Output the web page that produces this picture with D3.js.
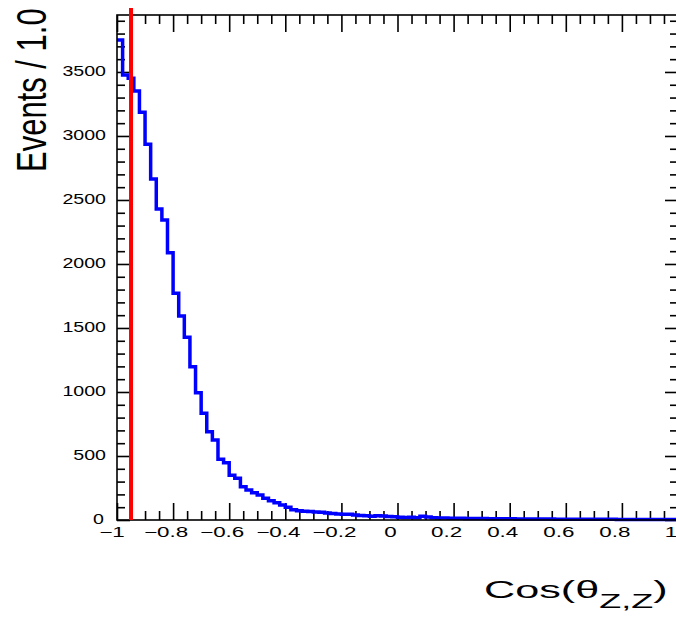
<!DOCTYPE html>
<html>
<head>
<meta charset="utf-8">
<script src="https://cdn.jsdelivr.net/npm/d3@7"></script>
<style>
  body { margin: 0; background: #fff; }
  svg { display: block; }
  text { font-family: "Liberation Sans", Arial, Helvetica, sans-serif; fill: #000; }
</style>
</head>
<body>
<svg id="svg-graphic" width="676" height="617"></svg>
<script>
/////////////////////////////////////////////////////////////////////////////////////
// Data
var binLow = -1, binHigh = 1, nBins = 100;
var binCounts = [
  3750, 3477, 3450, 3352, 3185, 2935, 2664, 2430, 2344, 2088,
  1771, 1594, 1427, 1198,  995,  833,  690,  625,  474,  448,
   350,  326,  260,  234,  213,  195,  169,  151,  135,  117,
    99,   80,   73,   68,   66,   62,   60,   55,   50,   46,
    44,   45,   40,   36,   33,   30,   33,   31,   27,   25,
    22,   20,   22,   18,   30,   24,   18,   16,   15,   14,
    13,   13,   12,   12,   11,   11,   10,   10,    9,    9,
     9,    8,    8,    8,    7,    7,    7,    7,    6,    6,
     6,    6,    6,    5,    5,    5,    5,    5,    5,    4,
     4,    4,    4,    4,    4,    4,    3,    3,    3,    3
];
var cutValue = -0.95;          // red vertical line
var cutTop = 4000;
var xTickValues = [-1, -0.8, -0.6, -0.4, -0.2, 0, 0.2, 0.4, 0.6, 0.8, 1];
var xTickLabels = ["\u22121", "\u22120.8", "\u22120.6", "\u22120.4", "\u22120.2", "0", "0.2", "0.4", "0.6", "0.8", "1"];
var yTickValues = [0, 500, 1000, 1500, 2000, 2500, 3000, 3500];
var yTickLabels = ["0", "500", "1000", "1500", "2000", "2500", "3000", "3500"];
var yMax = 3945;

/////////////////////////////////////////////////////////////////////////////////////
// Margins
var svg = d3.select("#svg-graphic");
var margin = {left: 117, right: -2, top: 15, bottom: 97};
var w = 676, h = 617;

var xScale = d3.scaleLinear().domain([binLow, binHigh]).range([margin.left, w - margin.right]);
var yScale = d3.scaleLinear().domain([0, yMax]).range([h - margin.bottom, margin.top]);

var binWidth = (binHigh - binLow) / nBins;
var histPoints = binCounts.map(function(c, i) { return [binLow + i * binWidth, c]; });
histPoints.push([binHigh, binCounts[nBins - 1]]);

var xMinor = d3.range(-20, 21).map(function(i) { return i * 0.05; })
  .filter(function(v) { return Math.abs(Math.round(v * 5) - v * 5) > 1e-6; });
var yMinor = d3.range(0, 40).map(function(i) { return i * 100; })
  .filter(function(v) { return v % 500 !== 0 && v <= yMax; });

/////////////////////////////////////////////////////////////////////////////////////
// Axes (ticks inside, ROOT style)
function tickAxis(axis, cls, tr) {
  var g = svg.append("g").attr("class", cls).attr("transform", tr).call(axis);
  g.select(".domain").remove();
  g.selectAll("line").attr("stroke", "#000").attr("stroke-width", 1.6);
  return g;
}
var y0 = yScale(0), y1 = yScale(yMax);
tickAxis(d3.axisBottom(xScale).tickValues(xTickValues).tickSize(-17).tickFormat(""), "xMajB", "translate(0," + y0 + ")");
tickAxis(d3.axisBottom(xScale).tickValues(xMinor).tickSize(-9).tickFormat(""), "xMinB", "translate(0," + y0 + ")");
tickAxis(d3.axisTop(xScale).tickValues(xTickValues).tickSize(-17).tickFormat(""), "xMajT", "translate(0," + y1 + ")");
tickAxis(d3.axisTop(xScale).tickValues(xMinor).tickSize(-9).tickFormat(""), "xMinT", "translate(0," + y1 + ")");
tickAxis(d3.axisLeft(yScale).tickValues(yTickValues).tickSize(-13).tickFormat(""), "yMajL", "translate(" + margin.left + ",0)");
tickAxis(d3.axisLeft(yScale).tickValues(yMinor).tickSize(-8).tickFormat(""), "yMinL", "translate(" + margin.left + ",0)");
tickAxis(d3.axisRight(yScale).tickValues(yTickValues).tickSize(-13).tickFormat(""), "yMajR", "translate(" + (w - margin.right) + ",0)");
tickAxis(d3.axisRight(yScale).tickValues(yMinor).tickSize(-8).tickFormat(""), "yMinR", "translate(" + (w - margin.right) + ",0)");

// Histogram
var line = d3.line()
  .x(function(d) { return xScale(d[0]); })
  .y(function(d) { return yScale(d[1]); })
  .curve(d3.curveStepAfter);
svg.append("path")
   .datum(histPoints)
   .attr("d", line)
   .attr("fill", "none")
   .attr("stroke", "#0000ff")
   .attr("stroke-width", 3.5);

// Frame
svg.append("rect")
   .attr("x", margin.left).attr("y", y1)
   .attr("width", xScale(binHigh) - margin.left).attr("height", y0 - y1)
   .attr("fill", "none").attr("stroke", "#000").attr("stroke-width", 1.6);

// Red cut line
svg.append("line")
   .attr("x1", xScale(cutValue)).attr("x2", xScale(cutValue))
   .attr("y1", yScale(0)).attr("y2", yScale(cutTop))
   .attr("stroke", "#ff0000").attr("stroke-width", 4);

/////////////////////////////////////////////////////////////////////////////////////
// Labels (ROOT output is stretched horizontally)
svg.selectAll("text.xlab")
   .data(xTickValues)
   .enter()
   .append("text")
   .attr("class", "xlab")
   .attr("transform", function(d) { return "translate(" + (xScale(d) - 7 + (d === -1 ? 2 : 0)) + ",537) scale(1.6,1)"; })
   .attr("text-anchor", "middle")
   .style("font-size", "14px")
   .text(function(d, i) { return xTickLabels[i]; });

svg.selectAll("text.ylab")
   .data(yTickValues)
   .enter()
   .append("text")
   .attr("class", "ylab")
   .attr("transform", function(d) { return "translate(" + (d === 0 ? 104 : 106) + "," + (yScale(d) + 4) + ") scale(1.4,1)"; })
   .attr("text-anchor", "end")
   .style("font-size", "14px")
   .text(function(d, i) { return yTickLabels[i]; });

svg.append("text")
   .attr("transform", "translate(46,172) rotate(-90) scale(1,1.4)")
   .attr("text-anchor", "start")
   .style("font-size", "31px")
   .text("Events / 1.0");

var xt = svg.append("text")
   .attr("transform", "translate(484,598) scale(1.8,1)")
   .style("font-size", "24px");
xt.append("tspan").text("Cos(\u03b8");
xt.append("tspan").attr("dy", 10).style("font-size", "20px").text("Z,Z");
xt.append("tspan").attr("dy", -10).text(")");
</script>
</body>
</html>
